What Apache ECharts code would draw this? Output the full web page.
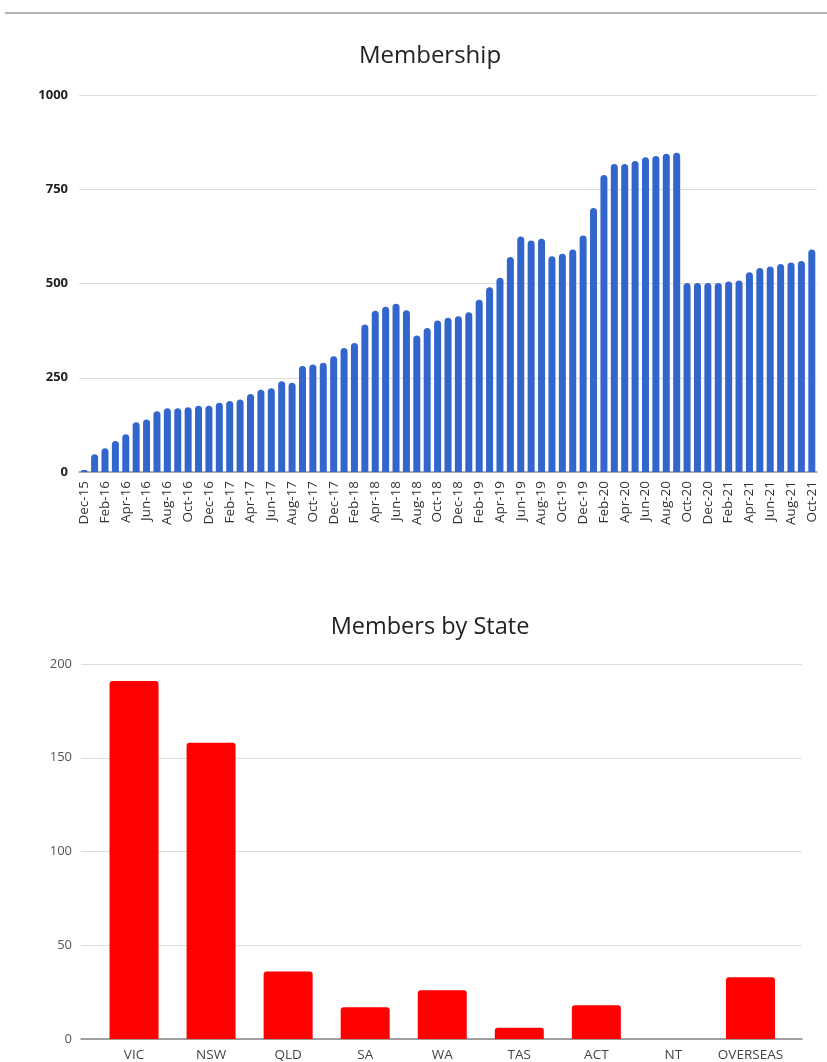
<!DOCTYPE html>
<html>
<head>
<meta charset="utf-8">
<script src="https://cdn.jsdelivr.net/npm/echarts@6/dist/echarts.min.js"></script>
<style>
  html, body { margin: 0; padding: 0; background: #fff; }
  #main { width: 827px; height: 1062px; }
</style>
</head>
<body>
<div id="main"></div>
<script>
var months = ['Dec-15','Jan-16','Feb-16','Mar-16','Apr-16','May-16','Jun-16','Jul-16','Aug-16','Sep-16','Oct-16','Nov-16',
  'Dec-16','Jan-17','Feb-17','Mar-17','Apr-17','May-17','Jun-17','Jul-17','Aug-17','Sep-17','Oct-17','Nov-17',
  'Dec-17','Jan-18','Feb-18','Mar-18','Apr-18','May-18','Jun-18','Jul-18','Aug-18','Sep-18','Oct-18','Nov-18',
  'Dec-18','Jan-19','Feb-19','Mar-19','Apr-19','May-19','Jun-19','Jul-19','Aug-19','Sep-19','Oct-19','Nov-19',
  'Dec-19','Jan-20','Feb-20','Mar-20','Apr-20','May-20','Jun-20','Jul-20','Aug-20','Sep-20','Oct-20','Nov-20',
  'Dec-20','Jan-21','Feb-21','Mar-21','Apr-21','May-21','Jun-21','Jul-21','Aug-21','Sep-21','Oct-21'];
var members = [5, 47, 63, 82, 100, 132, 139, 161, 169, 169, 172, 176,
  176, 184, 188, 192, 207, 218, 222, 241, 237, 281, 285, 290,
  307, 329, 342, 391, 428, 438, 446, 429, 362, 382, 402, 409,
  413, 424, 457, 490, 515, 570, 625, 614, 619, 572, 579, 590,
  627, 700, 788, 817, 817, 825, 835, 838, 844, 847, 501, 501,
  501, 501, 505, 508, 530, 541, 545, 552, 556, 560, 590];

var states = ['VIC', 'NSW', 'QLD', 'SA', 'WA', 'TAS', 'ACT', 'NT', 'OVERSEAS'];
var stateCounts = [191, 158, 36, 17, 26, 6, 18, 0, 33];

var font = "'Open Sans', 'Noto Sans', sans-serif";
var myChart = echarts.init(document.getElementById('main'));

option = {
    animation: false,
    textStyle: {fontFamily: font},
    graphic: [{
        type: 'line',
        shape: {x1: 5, y1: 13, x2: 827, y2: 13},
        style: {stroke: '#999', lineWidth: 1.5}
    }],
    title: [
        {text: 'Membership', left: 425, textAlign: 'center', top: 39,
         textStyle: {fontSize: 24, fontWeight: 'normal', color: '#222', fontFamily: font}},
        {text: 'Members by State', left: 425, textAlign: 'center', top: 610,
         textStyle: {fontSize: 23.5, fontWeight: 'normal', color: '#222', fontFamily: font}}
    ],
    grid: [
        {left: 79, right: 10, top: 95, height: 377},
        {left: 81, right: 25, top: 664, height: 375},
        {left: 95.5, right: 38, top: 664, height: 375}
    ],
    xAxis: [
        {
            gridIndex: 0, type: 'category', data: months,
            axisTick: {show: false},
            axisLine: {lineStyle: {color: '#999', width: 1.5}},
            axisLabel: {rotate: 90, interval: 1, fontSize: 13.5, color: '#333', margin: 9}
        },
        {
            gridIndex: 1, type: 'value', min: 0, max: 1,
            axisTick: {show: false}, axisLabel: {show: false}, splitLine: {show: false},
            axisLine: {show: true, lineStyle: {color: '#888', width: 1.5}}
        },
        {
            gridIndex: 2, type: 'category', data: states,
            axisTick: {show: false}, axisLine: {show: false},
            axisLabel: {interval: 0, fontSize: 13.5, color: '#444', margin: 9}
        }
    ],
    yAxis: [
        {
            gridIndex: 0, type: 'value', min: 0, max: 1000, interval: 250,
            axisLine: {show: false}, axisTick: {show: false},
            axisLabel: {fontSize: 13, fontWeight: 'bold', color: '#222', margin: 11,
                        formatter: function (v) { return String(v); }},
            splitLine: {lineStyle: {color: '#ddd', width: 1}}
        },
        {
            gridIndex: 1, type: 'value', min: 0, max: 200, interval: 50,
            axisLine: {show: false}, axisTick: {show: false},
            axisLabel: {fontSize: 13, color: '#555', margin: 9},
            splitLine: {lineStyle: {color: '#ddd', width: 1}}
        },
        {
            gridIndex: 2, type: 'value', min: 0, max: 200, show: false
        }
    ],
    series: [
        {
            name: 'Membership', type: 'bar',
            xAxisIndex: 0, yAxisIndex: 0,
            data: members,
            barWidth: 7,
            itemStyle: {color: '#3366cc', borderRadius: [3.5, 3.5, 0, 0]}
        },
        {
            name: 'Members by State', type: 'bar',
            xAxisIndex: 2, yAxisIndex: 2,
            data: stateCounts,
            barWidth: 49,
            itemStyle: {color: '#ff0000', borderRadius: [3, 3, 0, 0]}
        }
    ]
};
myChart.setOption(option);
</script>
</body>
</html>
